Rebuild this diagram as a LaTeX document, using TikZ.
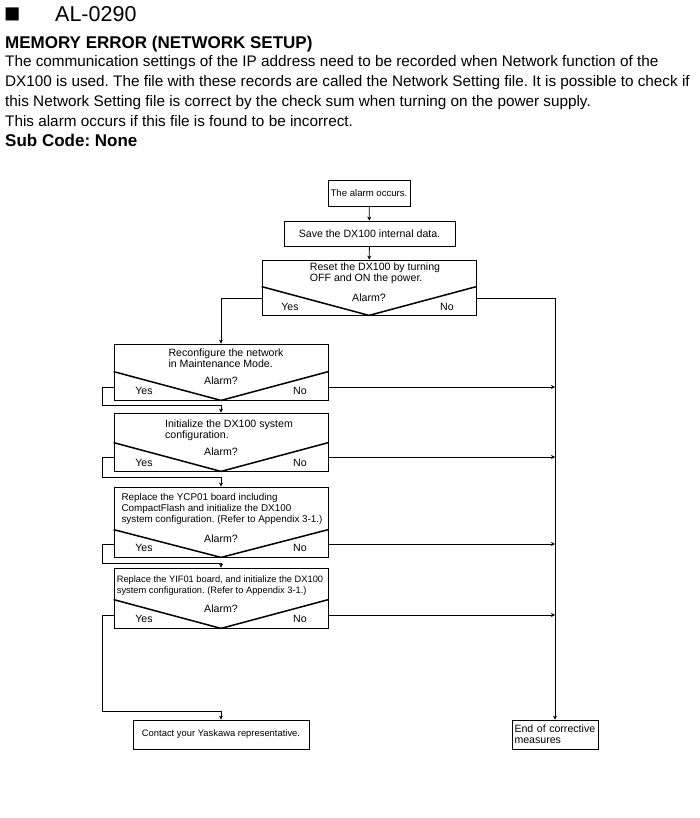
\documentclass[tikz,border=0pt]{standalone}
\usepackage{fontspec}
\setmainfont{Liberation Sans}
\usetikzlibrary{calc,arrows.meta}
\frenchspacing

\begin{document}
\begin{tikzpicture}[x=1pt,y=-1pt,
  head/.style={inner sep=0pt,anchor=base west},
  box/.style={draw,line width=0.8pt,inner sep=0pt,font=\fontsize{10.6}{11}\selectfont},
  txt/.style={inner sep=0pt,align=left,font=\fontsize{10.6}{11}\selectfont},
  vee/.style={line width=1.5pt},
  flow/.style={line width=0.8pt,-{Stealth[length=4pt,width=4pt]}}]
\useasboundingbox (0,0) rectangle (700,818);

\node[head,font=\fontsize{27}{30}\selectfont] (sq) at (4,22.5) {■};
\node[head,font=\fontsize{21.5}{24}\selectfont] (code) at (55,22) {AL-0290};
\node[head,font=\fontsize{17}{20}\selectfont\bfseries] (title) at (5,49) {MEMORY ERROR (NETWORK SETUP)};
\node[head,font=\fontsize{15.3}{20}\selectfont] (line1) at (5,67) {The communication settings of the IP address need to be recorded when Network function of the};
\node[head,font=\fontsize{15.3}{20}\selectfont] (line2) at (5,87) {DX100 is used. The file with these records are called the Network Setting file. It is possible to check if};
\node[head,font=\fontsize{15.3}{20}\selectfont] (line3) at (5,107) {this Network Setting file is correct by the check sum when turning on the power supply.};
\node[head,font=\fontsize{15.3}{20}\selectfont] (line4) at (5,127) {This alarm occurs if this file is found to be incorrect.};
\node[head,font=\fontsize{17}{20}\selectfont\bfseries] (sub) at (5,147) {Sub Code: None};

\node[box,minimum width=82,minimum height=26,font=\fontsize{9.6}{11}\selectfont] (alarm) at (369,193) {The alarm occurs.};
\node[box,minimum width=171,minimum height=25] (save) at (369.5,233.5) {Save the DX100 internal data.};

\node[box,minimum width=214,minimum height=55] (reset) at (369,287.5) {};
\node[txt] at (375,273.5) {Reset the DX100 by turning\\OFF and ON the power.};
\draw[vee] ($(reset.north west)+(0,27)$) -- (reset.south) -- ($(reset.north east)+(0,27)$);
\node[txt] at (369,297.5) {Alarm?};
\node[txt] at (290,307) {Yes};
\node[txt] at (447,307) {No};

\node[box,minimum width=214,minimum height=56] (reconf) at (221,372) {};
\node[txt] at (226,358) {Reconfigure the network\\in Maintenance Mode.};
\draw[vee] ($(reconf.north west)+(0,28)$) -- (reconf.south) -- ($(reconf.north east)+(0,28)$);
\node[txt] at (221,381) {Alarm?};
\node[txt] at (144,391) {Yes};
\node[txt] at (300,391) {No};

\node[box,minimum width=214,minimum height=58] (init) at (221,442) {};
\node[txt] at (229,430) {Initialize the DX100 system\\configuration.};
\draw[vee] ($(init.north west)+(0,30)$) -- (init.south) -- ($(init.north east)+(0,30)$);
\node[txt] at (221,452) {Alarm?};
\node[txt] at (144,463) {Yes};
\node[txt] at (300,463) {No};

\node[box,minimum width=214,minimum height=70] (ycp) at (221,522) {};
\node[txt,font=\fontsize{9.85}{11}\selectfont] at (222,508.5) {Replace the YCP01 board including\\CompactFlash and initialize the DX100\\system configuration. (Refer to Appendix 3-1.)};
\draw[vee] ($(ycp.north west)+(0,43)$) -- (ycp.south) -- ($(ycp.north east)+(0,43)$);
\node[txt] at (221,539) {Alarm?};
\node[txt] at (144,548) {Yes};
\node[txt] at (300,548) {No};

\node[box,minimum width=214,minimum height=60] (yif) at (221,598) {};
\node[txt,font=\fontsize{9.3}{11}\selectfont] at (220,586) {Replace the YIF01 board, and initialize the DX100\\system configuration. (Refer to Appendix 3-1.)};
\draw[vee] ($(yif.north west)+(0,32)$) -- (yif.south) -- ($(yif.north east)+(0,32)$);
\node[txt] at (221,609) {Alarm?};
\node[txt] at (144,619) {Yes};
\node[txt] at (300,619) {No};

\node[box,minimum width=176,minimum height=29,font=\fontsize{9.4}{11}\selectfont] (contact) at (221,734.5) {Contact your Yaskawa representative.};
\node[box,minimum height=29,text width=81,inner xsep=2.5pt,align=left] (endm) at (555,734.5) {End of corrective\\measures};

\coordinate (noreset) at ($(reset.east)+(0,10.5)$);
\coordinate (noreconf) at ($(reconf.east)+(0,15)$);
\coordinate (noinit) at ($(init.east)+(0,15)$);
\coordinate (noycp) at ($(ycp.east)+(0,22)$);
\coordinate (noyif) at ($(yif.east)+(0,17)$);

\draw[flow] (alarm) -- (save);
\draw[flow] (save) -- (reset);
\draw[flow] ($(reset.west)+(0,10.5)$) -| (reconf.north);
\draw[flow] (noreset) -| (endm.north);

\draw[flow] ($(reconf.west)+(0,15)$) -- ++(-11,0) |- ($(init.north)+(0,-7)$) -- (init.north);
\draw[flow] ($(init.west)+(0,15)$) -- ++(-11,0) |- ($(ycp.north)+(0,-9)$) -- (ycp.north);
\draw[flow] ($(ycp.west)+(0,22)$) -- ++(-11,0) |- ($(yif.north)+(0,-4)$) -- (yif.north);
\draw[flow] ($(yif.west)+(0,17)$) -- ++(-11,0) |- ($(contact.north)+(0,-8)$) -- (contact.north);

\draw[flow] (noreconf) -- (noreconf -| endm.north);
\draw[flow] (noinit) -- (noinit -| endm.north);
\draw[flow] (noycp) -- (noycp -| endm.north);
\draw[flow] (noyif) -- (noyif -| endm.north);
\end{tikzpicture}
\end{document}
